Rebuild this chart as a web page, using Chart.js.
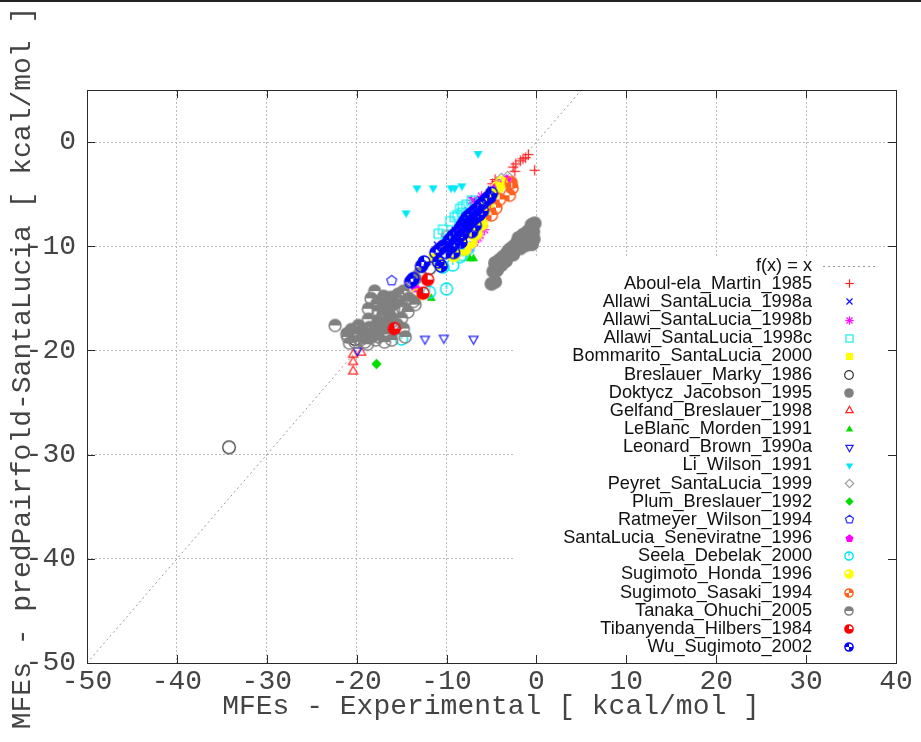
<!DOCTYPE html>
<html lang="en">
<head>
<meta charset="UTF-8">
<title>MFEs - predPairfold-SantaLucia vs Experimental</title>
<script src="https://cdn.jsdelivr.net/npm/chart.js@4"></script>
<style>
  * { box-sizing: border-box; margin: 0; padding: 0; }
  body { background: #fff; width: 921px; height: 742px; overflow: hidden; }
  #wrap { position: relative; width: 921px; height: 742px; }
</style>
</head>
<body>
<div id="wrap"><canvas id="mfe" width="921" height="742"></canvas></div>
<script>
  // axis ticks
  const xTicks = [-50, -40, -30, -20, -10, 0, 10, 20, 30, 40];
  const yTicks = [-50, -40, -30, -20, -10, 0];
  const fxRange = [-50, 40];

  const seriesNames = [
    'Aboul-ela_Martin_1985', 'Allawi_SantaLucia_1998a', 'Allawi_SantaLucia_1998b',
    'Allawi_SantaLucia_1998c', 'Bommarito_SantaLucia_2000', 'Breslauer_Marky_1986',
    'Doktycz_Jacobson_1995', 'Gelfand_Breslauer_1998', 'LeBlanc_Morden_1991',
    'Leonard_Brown_1990a', 'Li_Wilson_1991', 'Peyret_SantaLucia_1999',
    'Plum_Breslauer_1992', 'Ratmeyer_Wilson_1994', 'SantaLucia_Seneviratne_1996',
    'Seela_Debelak_2000', 'Sugimoto_Honda_1996', 'Sugimoto_Sasaki_1994',
    'Tanaka_Ohuchi_2005', 'Tibanyenda_Hilbers_1984', 'Wu_Sugimoto_2002'
  ];

  // [experimental, predicted] in kcal/mol
  const aboulEla = [[-0.9,-1.2],[-1.2,-1.5],[-1.5,-1.6],[-1.8,-1.8],[-2.3,-2.1],[-2.6,-2.4],
    [-2.4,-2.8],[-0.2,-2.7],[-4.4,-3.8],[-4.9,-4.0],[-4.6,-3.6]];
  const allawiA = [[-7.0,-5.6],[-6.2,-5.5],[-9.0,-8.5],[-8.0,-7.3],[-11.0,-9.9],[-5.0,-4.6],
    [-10.2,-9.3],[-7.6,-6.6]];
  const allawiB = [[-6.3,-8.9],[-6.9,-9.6],[-6.5,-9.2],[-7.2,-5.6],[-3.5,-3.8],[-6.0,-8.0],
    [-5.6,-7.2],[-7.4,-10.1],[-5.2,-6.3],[-4.6,-4.2],[-7.8,-10.5],[-6.1,-5.2],[-5.8,-8.4]];
  const allawiC = [[-10.9,-8.8],[-10.4,-8.4],[-8.5,-6.4],[-8.2,-6.2],[-8.3,-6.8],[-7.2,-5.6],
    [-9.6,-7.6],[-9.1,-7.2],[-10.0,-8.9],[-7.8,-6.0],[-8.8,-7.0]];
  const bommarito = [[-6.3,-7.5],[-5.7,-6.4],[-7.0,-8.3],[-5.0,-5.5],[-4.7,-5.0],[-8.1,-9.3],
    [-6.5,-7.0],[-9.5,-10.4],[-7.6,-8.9],[-4.2,-4.3],[-8.8,-9.0],[-7.3,-7.4],[-10.2,-10.2],[-11.5,-11.1]];
  const breslauer = [[-34.2,-29.3],[-11.9,-12.1],[-13.8,-13.3],[-16.7,-17.7],[-20.2,-18.9]];
  const doktycz = [[-0.2,-7.8],[-0.55,-7.95],[-0.35,-8.6],[-0.7,-9.1],[-0.3,-9.3],[-1.0,-8.6],
    [-1.5,-8.9],[-1.65,-9.4],[-2.0,-9.2],[-2.2,-9.7],[-2.5,-10.0],[-2.8,-10.2],[-3.1,-10.4],
    [-3.3,-10.7],[-3.7,-11.0],[-4.1,-11.3],[-4.6,-11.6],[-4.4,-12.3],[-4.4,-12.0],[-4.8,-12.4],
    [-5.0,-13.6],[-4.6,-13.4],[-0.5,-9.8],[-1.2,-9.9],[-1.8,-10.2],[-2.6,-10.8],[-3.4,-11.4],
    [-3.9,-11.8],[-17.0,-16.0],[-16.3,-16.8],[-17.6,-17.2],[-18.2,-18.6],[-15.8,-15.5],
    [-19.0,-18.5],[-16.8,-17.8]];
  const gelfand = [[-20.4,-20.4],[-19.5,-20.2],[-20.4,-21.1],[-20.4,-22.0]];
  const leblanc = [[-7.4,-11.2],[-7.0,-11.2],[-11.7,-15.0]];
  const leonard = [[-12.4,-18.9],[-10.3,-18.8],[-7.0,-18.9],[-19.9,-20.0]];
  const liWilson = [[-6.5,-1.1],[-13.3,-4.4],[-11.5,-4.4],[-9.5,-4.4],[-9.1,-4.4],[-8.3,-4.2],[-14.5,-6.8]];
  const peyret = [[-3.9,-3.5],[-3.2,-3.3],[-10.0,-8.9],[-3.6,-3.9]];
  const plum = [[-17.8,-21.3]];
  const ratmeyer = [[-16.1,-13.3]];
  const santaLucia = [[-3.5,-3.9],[-4.4,-4.2],[-13.5,-14.0],[-3.3,-3.6]];
  const seela = [[-9.3,-11.8],[-10.4,-12.0],[-10.0,-14.1],[-15.0,-18.9],[-11.9,-14.4],[-8.3,-10.8],
    [-8.1,-10.3],[-7.6,-10.2],[-8.5,-11.0],[-10.7,-11.8]];
  const sugimotoHonda = [[-4.4,-4.4],[-3.9,-3.9],[-5.4,-5.9],[-5.9,-7.0],[-6.1,-7.9],[-6.7,-8.8],
    [-7.3,-9.6],[-5.2,-5.1],[-13.3,-14.7],[-8.0,-10.3],[-5.6,-6.3],[-10.8,-11.7],[-9.2,-10.9]];
  const sugimotoSasaki = [[-2.7,-4.4],[-3.0,-5.1],[-4.1,-5.5],[-4.5,-6.3],[-5.0,-7.0],[-2.8,-3.9]];
  const tanaka = [[-18.0,-14.3],[-14.8,-14.3],[-13.5,-15.6],[-18.7,-16.0],[-17.6,-15.3],[-16.9,-15.6],
    [-15.9,-16.0],[-15.6,-15.0],[-14.6,-15.3],[-14.3,-16.3],[-15.0,-16.9],[-17.1,-16.6],[-18.7,-17.0],
    [-16.1,-17.25],[-17.1,-17.6],[-18.0,-18.05],[-16.9,-18.4],[-18.35,-18.4],[-19.8,-17.6],
    [-20.0,-18.4],[-21.1,-18.4],[-21.0,-18.7],[-20.2,-19.2],[-19.1,-19.2],[-17.6,-18.7],
    [-16.1,-19.0],[-16.9,-19.2],[-14.6,-18.7],[-14.8,-17.9],[-22.4,-17.6],[-17.0,-14.8],
    [-16.2,-14.9],[-15.4,-14.6],[-16.6,-15.2],[-17.8,-15.6],[-18.4,-15.0],[-15.0,-15.8],
    [-16.4,-16.4],[-17.6,-16.2],[-15.5,-17.5],[-14.2,-15.0],[-13.7,-15.3],[-20.6,-18.0],
    [-19.4,-18.0],[-18.6,-17.8],[-17.9,-19.0],[-19.6,-19.0],[-20.8,-19.3],[-18.8,-19.4],
    [-13.5,-13.1],[-13.0,-12.6]];
  const tibanyenda = [[-12.1,-13.2],[-12.6,-14.5],[-15.8,-17.9]];
  const wu = [[-14.0,-13.4],[-13.7,-13.1],[-12.8,-11.9],[-12.5,-11.5],[-11.2,-10.6],[-10.9,-11.5],
    [-10.6,-11.9],[-10.8,-10.3],[-10.4,-10.0],[-10.0,-9.9],[-10.1,-10.6],[-9.7,-9.4],[-9.5,-10.1],
    [-9.3,-9.0],[-9.0,-9.6],[-8.9,-8.7],[-8.7,-9.2],[-8.5,-8.3],[-8.3,-8.0],[-8.2,-8.8],[-8.0,-7.6],
    [-7.8,-8.2],[-7.7,-7.2],[-7.5,-7.8],[-7.3,-6.9],[-7.1,-7.5],[-6.9,-6.6],[-6.8,-7.2],[-6.6,-6.4],
    [-6.4,-7.0],[-6.2,-6.0],[-6.0,-6.6],[-5.8,-5.7],[-5.5,-5.4],[-5.2,-5.3],[-5.0,-4.9],[-6.8,-8.0],
    [-7.2,-8.6],[-9.2,-10.6],[-8.4,-9.6]];

  const seriesData = [aboulEla, allawiA, allawiB, allawiC, bommarito, breslauer, doktycz, gelfand,
    leblanc, leonard, liWilson, peyret, plum, ratmeyer, santaLucia, seela, sugimotoHonda,
    sugimotoSasaki, tanaka, tibanyenda, wu];

  // gnuplot-like point types and colours
  const markerKinds = ['plus', 'cross', 'star', 'square', 'squareF', 'circle', 'circleF',
    'tri', 'triF', 'itri', 'itriF', 'diamond', 'diamondF', 'penta', 'pentaF',
    'circLine', 'circQ1', 'circQ2', 'circHalf', 'circQ3', 'circQ4'];
  const markerColors = ['#ff2020', '#1010ff', '#ff10ff', '#10f0f0', '#ffff00', '#333333',
    '#808080', '#ff2020', '#00dd00', '#2020ff', '#00e8f8', '#a0a0a0', '#00dd00', '#3030ff',
    '#ff00ff', '#00e8f0', '#ffff00', '#ff6020', '#808080', '#ff0000', '#0000ff'];

  function wedge(g, r, a0, a1) {
    g.beginPath(); g.moveTo(0, 0);
    g.arc(0, 0, r, a0 * Math.PI / 180, a1 * Math.PI / 180);
    g.closePath(); g.fill();
  }

  function poly(g, n, r, rot, fill) {
    g.beginPath();
    for (let i = 0; i < n; i++) {
      const a = rot + i * 2 * Math.PI / n;
      const px = r * Math.cos(a), py = r * Math.sin(a);
      i ? g.lineTo(px, py) : g.moveTo(px, py);
    }
    g.closePath();
    fill ? g.fill() : g.stroke();
  }

  function makeMarker(kind, color, r) {
    const size = Math.ceil(2 * r + 4);
    const c = document.createElement('canvas');
    c.width = c.height = size;
    const g = c.getContext('2d');
    g.translate(size / 2, size / 2);
    g.strokeStyle = color; g.fillStyle = color; g.lineWidth = 1.2;
    const line = (x0, y0, x1, y1) => { g.beginPath(); g.moveTo(x0, y0); g.lineTo(x1, y1); g.stroke(); };
    const d = r * 0.72;
    switch (kind) {
      case 'plus': line(-r, 0, r, 0); line(0, -r, 0, r); break;
      case 'cross': line(-d, -d, d, d); line(-d, d, d, -d); break;
      case 'star': line(-r, 0, r, 0); line(0, -r, 0, r); line(-d, -d, d, d); line(-d, d, d, -d); break;
      case 'square': g.strokeRect(-r * 0.85, -r * 0.85, r * 1.7, r * 1.7); break;
      case 'squareF': g.fillRect(-r * 0.85, -r * 0.85, r * 1.7, r * 1.7); break;
      case 'circle': g.beginPath(); g.arc(0, 0, r * 0.9, 0, 2 * Math.PI); g.stroke(); break;
      case 'circleF': g.beginPath(); g.arc(0, 0, r, 0, 2 * Math.PI); g.fill(); break;
      case 'tri': poly(g, 3, r, -Math.PI / 2, false); break;
      case 'triF': poly(g, 3, r, -Math.PI / 2, true); break;
      case 'itri': poly(g, 3, r, Math.PI / 2, false); break;
      case 'itriF': poly(g, 3, r, Math.PI / 2, true); break;
      case 'diamond': poly(g, 4, r, 0, false); break;
      case 'diamondF': poly(g, 4, r, 0, true); break;
      case 'penta': poly(g, 5, r, -Math.PI / 2, false); break;
      case 'pentaF': poly(g, 5, r, -Math.PI / 2, true); break;
      default: {
        const rr = r * 0.85;
        if (kind === 'circLine') line(0, -rr, 0, 0);
        if (kind === 'circQ1') wedge(g, rr, -90, 180);
        if (kind === 'circQ2') { wedge(g, rr, -90, 0); wedge(g, rr, 90, 180); }
        if (kind === 'circHalf') wedge(g, rr, 180, 360);
        if (kind === 'circQ3') wedge(g, rr, 0, 270);
        if (kind === 'circQ4') { wedge(g, rr, 0, 90); wedge(g, rr, 180, 270); }
        g.lineWidth = 1.5;
        g.beginPath(); g.arc(0, 0, rr, 0, 2 * Math.PI); g.stroke();
      }
    }
    return c;
  }

  const plotMarkers = markerKinds.map((k, i) =>
    makeMarker(k, markerColors[i], k.startsWith('circ') ? 7 : (k === 'circleF' ? 6.2 : 5.2)));
  const keyMarkers = markerKinds.map((k, i) => makeMarker(k, markerColors[i], k.startsWith('circ') ? 4.8 : 4.2));

  const datasets = seriesNames.map((name, i) => ({
    label: name,
    data: seriesData[i].map(([x, y]) => ({ x, y })),
    pointStyle: plotMarkers[i],
    pointRadius: 5,
    showLine: false,
    order: seriesNames.length - i
  }));
  datasets.push({
    label: 'f(x) = x',
    type: 'line',
    data: fxRange.map(v => ({ x: v, y: v })),
    borderColor: '#9a9a9a',
    borderWidth: 1,
    borderDash: [2, 3],
    pointRadius: 0,
    order: 100
  });

  const monoFont = '"Liberation Mono", "DejaVu Sans Mono", monospace';
  const keyBox = { left: 515, top: 256 };
  const keyRow0 = 265.5, keyRowStep = 18.17, keyTextRight = 812, keyMarkX = 849;

  const gnuplotLook = {
    id: 'gnuplotLook',
    beforeDatasetsDraw(chart) {
      const { ctx, chartArea: a } = chart;
      ctx.save();
      ctx.fillStyle = '#fff';
      ctx.fillRect(keyBox.left, keyBox.top, a.right - keyBox.left, a.bottom - keyBox.top);
      ctx.restore();
    },
    afterDatasetsDraw(chart) {
      const { ctx, chartArea: a, scales: { x, y } } = chart;
      ctx.save();
      // frame with inward ticks on all sides
      ctx.strokeStyle = '#2a2a2a';
      ctx.lineWidth = 1;
      ctx.strokeRect(Math.round(a.left) + 0.5, Math.round(a.top) + 0.5,
        Math.round(a.right - a.left), Math.round(a.bottom - a.top));
      ctx.beginPath();
      xTicks.forEach(v => {
        const px = Math.round(x.getPixelForValue(v)) + 0.5;
        ctx.moveTo(px, a.bottom); ctx.lineTo(px, a.bottom - 8);
        ctx.moveTo(px, a.top); ctx.lineTo(px, a.top + 8);
      });
      yTicks.forEach(v => {
        const py = Math.round(y.getPixelForValue(v)) + 0.5;
        ctx.moveTo(a.left, py); ctx.lineTo(a.left + 8, py);
        ctx.moveTo(a.right, py); ctx.lineTo(a.right - 8, py);
      });
      ctx.stroke();

      // key
      ctx.font = '18.2px "Liberation Sans", Arial, sans-serif';
      ctx.fillStyle = '#111';
      ctx.textAlign = 'right';
      ctx.textBaseline = 'middle';
      const fx = datasets[datasets.length - 1];
      ctx.fillText(fx.label, keyTextRight, keyRow0);
      ctx.strokeStyle = fx.borderColor;
      ctx.setLineDash(fx.borderDash);
      ctx.beginPath();
      ctx.moveTo(823, Math.round(keyRow0) + 0.5); ctx.lineTo(875, Math.round(keyRow0) + 0.5);
      ctx.stroke();
      ctx.setLineDash([]);
      seriesNames.forEach((name, i) => {
        const ry = keyRow0 + (i + 1) * keyRowStep;
        ctx.fillText(name, keyTextRight, ry);
        const m = keyMarkers[i];
        ctx.drawImage(m, Math.round(keyMarkX - m.width / 2), Math.round(ry - m.height / 2));
      });
      ctx.restore();
    },
    afterDraw(chart) {
      const { ctx } = chart;
      ctx.save();
      ctx.fillStyle = '#222';
      ctx.fillRect(0, 0, chart.width, 2);
      ctx.fillStyle = '#444';
      ctx.font = '28px ' + monoFont;
      ctx.textAlign = 'center';
      ctx.textBaseline = 'middle';
      ctx.fillText('MFEs - Experimental [ kcal/mol ]', 491, 707);
      ctx.translate(23, 368);
      ctx.rotate(-Math.PI / 2);
      ctx.fillText('MFEs - predPairfold-SantaLucia [ kcal/mol ]', 0, 0);
      ctx.restore();
    }
  };

  const axisCommon = {
    type: 'linear',
    grid: { color: '#bcbcbc', lineWidth: 1, drawTicks: false },
    border: { display: false, dash: [2, 2] },
    ticks: {
      font: { family: monoFont, size: 28 },
      color: '#444',
      autoSkip: false,
      maxRotation: 0,
      callback: v => String(v)
    }
  };

  new Chart(document.getElementById('mfe'), {
    type: 'scatter',
    data: { datasets },
    options: {
      responsive: false,
      animation: false,
      events: [],
      layout: { padding: { left: 0, top: 90, right: 25, bottom: 0 } },
      plugins: { legend: { display: false }, tooltip: { enabled: false } },
      scales: {
        x: {
          ...axisCommon,
          min: -50, max: 40,
          ticks: { ...axisCommon.ticks, padding: 2 },
          afterBuildTicks: s => { s.ticks = xTicks.map(v => ({ value: v })); },
          afterFit: s => { s.height = 79; }
        },
        y: {
          ...axisCommon,
          min: -50, max: 5,
          ticks: { ...axisCommon.ticks, padding: 11 },
          afterBuildTicks: s => { s.ticks = yTicks.map(v => ({ value: v })); },
          afterFit: s => { s.width = 87; }
        }
      }
    },
    plugins: [gnuplotLook]
  });
</script>
</body>
</html>
